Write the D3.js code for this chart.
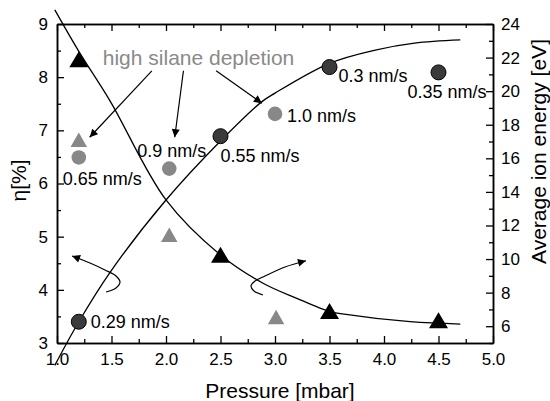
<!DOCTYPE html>
<meta charset="utf-8">
<style>
body { margin: 0; background: #fff; }
text { font-family: Arial, "Liberation Sans", sans-serif; }
</style>
<body>
<script src="https://d3js.org/d3.v7.min.js"></script>
<script>

// efficiency (left axis), circles
var etaDarkP = [1.2, 2.5, 3.5, 4.5];
var etaDark = [3.40, 6.89, 8.19, 8.09];
var etaDarkRate = ["0.29 nm/s", "0.55 nm/s", "0.3 nm/s", "0.35 nm/s"];
var etaGrayP = [1.2, 2.03, 3.0];
var etaGray = [6.49, 6.28, 7.31];
var etaGrayRate = ["0.65 nm/s", "0.9 nm/s", "1.0 nm/s"];

// average ion energy (right axis), triangles
var energyBlackP = [1.2, 2.5, 3.5, 4.5];
var energyBlack = [21.9, 10.25, 6.9, 6.35];
var energyGrayP = [1.2, 2.03, 3.01];
var energyGray = [17.1, 11.45, 6.55];

// guide curves
var etaFitP = [0.98, 1.2, 1.49, 2.0, 2.5, 2.88, 3.0, 3.5, 3.92, 4.28, 4.7];
var etaFit = [2.58, 3.40, 4.34, 5.69, 6.80, 7.54, 7.70, 8.26, 8.51, 8.64, 8.70];
var energyFitP = [0.98, 1.2, 1.49, 2.0, 2.5, 2.89, 3.2, 3.5, 3.6, 4.24, 4.7];
var energyFit = [24.84, 22.37, 19.38, 13.52, 10.24, 8.56, 7.66, 6.87, 6.75, 6.27, 6.13];

// ticks
var xTicks = [1.0, 1.5, 2.0, 2.5, 3.0, 3.5, 4.0, 4.5, 5.0];
var xMinor = [1.25, 1.75, 2.25, 2.75, 3.25, 3.75, 4.25, 4.75];
var etaTicks = [3, 4, 5, 6, 7, 8, 9];
var etaMinor = [3.5, 4.5, 5.5, 6.5, 7.5, 8.5];
var energyTicks = [6, 8, 10, 12, 14, 16, 18, 20, 22, 24];
var energyMinor = [5, 7, 9, 11, 13, 15, 17, 19, 21, 23];

var W = 550, H = 401;
var margin = {top: 24, right: 57, bottom: 58, left: 57};
var width = W - margin.left - margin.right,
    height = H - margin.top - margin.bottom;

var x = d3.scaleLinear().domain([1, 5]).range([0, width]);
var yL = d3.scaleLinear().domain([3, 9]).range([height, 0]);
var yR = d3.scaleLinear().domain([5, 24]).range([height, 0]);

var svg = d3.select("body").append("svg")
    .attr("width", W).attr("height", H);

svg.append("defs").append("marker")
    .attr("id", "head")
    .attr("viewBox", "0 0 10 10")
    .attr("refX", 10).attr("refY", 5)
    .attr("markerWidth", 9).attr("markerHeight", 8)
    .attr("markerUnits", "userSpaceOnUse")
    .attr("orient", "auto")
  .append("path")
    .attr("d", "M0,0L10,5L0,10Z")
    .attr("fill", "#000");

var g = svg.append("g")
    .attr("transform", "translate(" + margin.left + "," + margin.top + ")");

// axes
function styleAxis(sel) {
  sel.selectAll("path").attr("stroke", "#000").attr("stroke-width", 1.5);
  sel.selectAll("line").attr("stroke", "#000").attr("stroke-width", 1.3);
  sel.selectAll("text").attr("font-size", "17px").attr("fill", "#000")
     .attr("font-family", "Arial, 'Liberation Sans', sans-serif");
}

g.append("g").attr("transform", "translate(0," + height + ")")
  .call(d3.axisBottom(x).tickValues(xTicks).tickFormat(d3.format(".1f"))
        .tickSizeInner(-7).tickSizeOuter(0).tickPadding(10))
  .call(styleAxis);
g.append("g").attr("transform", "translate(0," + height + ")")
  .call(d3.axisBottom(x).tickValues(xMinor).tickFormat("").tickSizeInner(-4).tickSizeOuter(0))
  .call(styleAxis);
g.append("g")
  .call(d3.axisTop(x).tickValues(xTicks).tickFormat("").tickSizeInner(-7).tickSizeOuter(0))
  .call(styleAxis);
g.append("g")
  .call(d3.axisTop(x).tickValues(xMinor).tickFormat("").tickSizeInner(-4).tickSizeOuter(0))
  .call(styleAxis);

g.append("g")
  .call(d3.axisLeft(yL).tickValues(etaTicks).tickFormat(d3.format("d"))
        .tickSizeInner(-7).tickSizeOuter(0).tickPadding(9))
  .call(styleAxis);
g.append("g")
  .call(d3.axisLeft(yL).tickValues(etaMinor).tickFormat("").tickSizeInner(-4).tickSizeOuter(0))
  .call(styleAxis);

g.append("g").attr("transform", "translate(" + width + ",0)")
  .call(d3.axisRight(yR).tickValues(energyTicks).tickFormat(d3.format("d"))
        .tickSizeInner(-7).tickSizeOuter(0).tickPadding(8))
  .call(styleAxis);
g.append("g").attr("transform", "translate(" + width + ",0)")
  .call(d3.axisRight(yR).tickValues(energyMinor).tickFormat("").tickSizeInner(-4).tickSizeOuter(0))
  .call(styleAxis);

// axis titles
svg.append("text")
  .attr("x", margin.left + width / 2 + 5).attr("y", 398)
  .attr("text-anchor", "middle").attr("font-size", "21px")
  .text("Pressure [mbar]");
svg.append("text")
  .attr("transform", "translate(26," + (margin.top + height / 2 - 3) + ") rotate(-90)")
  .attr("text-anchor", "middle").attr("font-size", "21px")
  .text("η[%]");
svg.append("text")
  .attr("transform", "translate(546," + (margin.top + height / 2 - 32) + ") rotate(-90)")
  .attr("text-anchor", "middle").attr("font-size", "21px")
  .text("Average ion energy [eV]");

// guide curves
var etaLine = d3.line()
  .x(function(d, i) { return x(etaFitP[i]); })
  .y(function(d) { return yL(d); })
  .curve(d3.curveCatmullRom);
var energyLine = d3.line()
  .x(function(d, i) { return x(energyFitP[i]); })
  .y(function(d) { return yR(d); })
  .curve(d3.curveCatmullRom);

g.append("path").attr("d", etaLine(etaFit))
  .attr("fill", "none").attr("stroke", "#000").attr("stroke-width", 1.3);
g.append("path").attr("d", energyLine(energyFit))
  .attr("fill", "none").attr("stroke", "#000").attr("stroke-width", 1.3);

// triangles
function tri(w, h) {
  return "M0," + (-h / 2) + "L" + (w / 2) + "," + (h / 2) + "L" + (-w / 2) + "," + (h / 2) + "Z";
}
g.selectAll(".tb").data(energyBlack).enter().append("path")
  .attr("d", tri(19, 16))
  .attr("transform", function(d, i) { return "translate(" + x(energyBlackP[i]) + "," + yR(d) + ")"; })
  .attr("fill", "#000");
g.selectAll(".tg").data(energyGray).enter().append("path")
  .attr("d", tri(16.5, 14.5))
  .attr("transform", function(d, i) { return "translate(" + x(energyGrayP[i]) + "," + yR(d) + ")"; })
  .attr("fill", "#888");

// circles
g.selectAll(".cg").data(etaGray).enter().append("circle")
  .attr("cx", function(d, i) { return x(etaGrayP[i]); })
  .attr("cy", function(d) { return yL(d); })
  .attr("r", 7.3).attr("fill", "#888");
g.selectAll(".cd").data(etaDark).enter().append("circle")
  .attr("cx", function(d, i) { return x(etaDarkP[i]); })
  .attr("cy", function(d) { return yL(d); })
  .attr("r", 7.5).attr("fill", "#3a3a3a").attr("stroke", "#000").attr("stroke-width", 1);

// rate labels, offsets in px from the marker
var darkOff = [[12, 6], [0, 26], [9, 15], [-31, 26]];
var grayOff = [[-16, 28], [-32, -12], [12, 8]];
g.selectAll(".ld").data(etaDarkRate).enter().append("text")
  .attr("x", function(d, i) { return x(etaDarkP[i]) + darkOff[i][0]; })
  .attr("y", function(d, i) { return yL(etaDark[i]) + darkOff[i][1]; })
  .attr("font-size", "18px").text(function(d) { return d; });
g.selectAll(".lg").data(etaGrayRate).enter().append("text")
  .attr("x", function(d, i) { return x(etaGrayP[i]) + grayOff[i][0]; })
  .attr("y", function(d, i) { return yL(etaGray[i]) + grayOff[i][1]; })
  .attr("font-size", "18px").text(function(d) { return d; });

// annotation
g.append("text")
  .attr("x", x(1.42)).attr("y", yL(8.23))
  .attr("font-size", "21px").attr("fill", "#8a8a8a")
  .text("high silane depletion");

var pointers = [
  [[1.87, 8.12], [1.30, 6.87]],
  [[2.16, 8.12], [2.08, 6.87]],
  [[2.46, 8.12], [2.88, 7.51]]
];
g.selectAll(".ptr").data(pointers).enter().append("line")
  .attr("x1", function(d) { return x(d[0][0]); })
  .attr("y1", function(d) { return yL(d[0][1]); })
  .attr("x2", function(d) { return x(d[1][0]); })
  .attr("y2", function(d) { return yL(d[1][1]); })
  .attr("stroke", "#000").attr("stroke-width", 1.2)
  .attr("marker-end", "url(#head)");

// curly arrows telling which axis a curve belongs to
var curlLeft = [[1.450, 3.960], [1.541, 4.035], [1.578, 4.148], [1.541, 4.261],
                [1.440, 4.373], [1.303, 4.505], [1.138, 4.637]];
var curlRight = [[2.890, 7.86], [2.807, 8.10], [2.780, 8.40], [2.817, 8.69],
                 [2.908, 8.99], [3.092, 9.53], [3.284, 9.90]];
g.append("path")
  .attr("d", d3.line().x(function(d) { return x(d[0]); }).y(function(d) { return yL(d[1]); })
          .curve(d3.curveCatmullRom)(curlLeft))
  .attr("fill", "none").attr("stroke", "#000").attr("stroke-width", 1.2)
  .attr("marker-end", "url(#head)");
g.append("path")
  .attr("d", d3.line().x(function(d) { return x(d[0]); }).y(function(d) { return yR(d[1]); })
          .curve(d3.curveCatmullRom)(curlRight))
  .attr("fill", "none").attr("stroke", "#000").attr("stroke-width", 1.2)
  .attr("marker-end", "url(#head)");

</script>
</body>
